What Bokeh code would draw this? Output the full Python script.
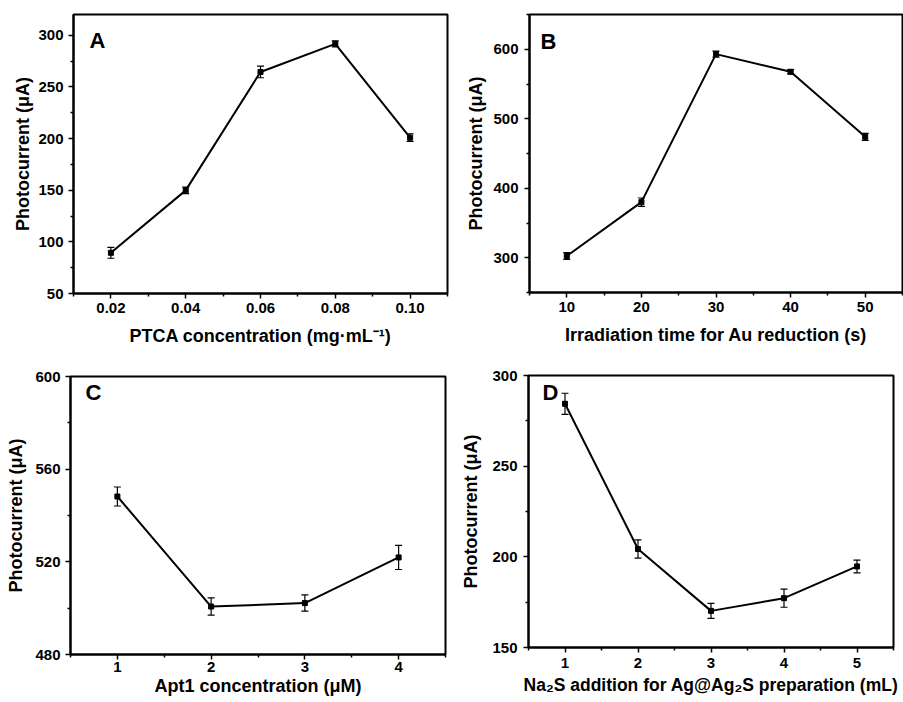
from bokeh.plotting import figure
from bokeh.models import (ColumnDataSource, Whisker, TeeHead, Range1d, FixedTicker,
                          Label, PrintfTickFormatter)
from bokeh.layouts import column, row
from bokeh.embed import file_html
from bokeh.resources import INLINE

FONT = "Liberation Sans"

# ---------------- Panel A ----------------
a_conc = [0.02, 0.04, 0.06, 0.08, 0.10]
a_current = [89.4, 149.8, 264.4, 291.6, 200.8]
a_error = [5.3, 3.2, 5.6, 2.9, 3.6]
a_xticks = [0.02, 0.04, 0.06, 0.08, 0.10]
a_xminor = [0.01, 0.03, 0.05, 0.07, 0.09, 0.11]
a_yticks = [50, 100, 150, 200, 250, 300]
a_yminor = [75, 125, 175, 225, 275]
a_xlabel = "PTCA concentration (mg·mL⁻¹)"

# ---------------- Panel B ----------------
b_time = [10, 20, 30, 40, 50]
b_current = [302.6, 380.0, 593.0, 567.6, 474.0]
b_error = [4.8, 6.0, 4.3, 3.0, 5.0]
b_xticks = [10, 20, 30, 40, 50]
b_xminor = [5, 15, 25, 35, 45, 55]
b_yticks = [300, 400, 500, 600]
b_yminor = [250, 350, 450, 550, 650]
b_xlabel = "Irradiation time for Au reduction (s)"

# ---------------- Panel C ----------------
c_apt = [1, 2, 3, 4]
c_current = [548.2, 500.7, 502.2, 521.9]
c_error = [4.1, 3.7, 3.5, 5.2]
c_xticks = [1, 2, 3, 4]
c_xminor = [0.5, 1.5, 2.5, 3.5, 4.5]
c_yticks = [480, 520, 560, 600]
c_yminor = [500, 540, 580]
c_xlabel = "Apt1 concentration (μM)"

# ---------------- Panel D ----------------
d_na2s = [1, 2, 3, 4, 5]
d_current = [284.4, 204.3, 170.2, 177.2, 194.7]
d_error = [5.8, 5.0, 4.1, 5.0, 3.5]
d_xticks = [1, 2, 3, 4, 5]
d_xminor = [0.5, 1.5, 2.5, 3.5, 4.5, 5.5]
d_yticks = [150, 200, 250, 300]
d_yminor = [175, 225, 275]
d_xlabel = "Na₂S addition for Ag@Ag₂S preparation (mL)"

y_label = "Photocurrent (μA)"


def panel(xs, ys, errs, xr, yr, xt, xm, yt, ym, xlabel, letter,
          width, height, bl, br, bt, bb, lx, ly,
          xtick_standoff=2, xlab_standoff=8, ytick_standoff=5, ylab_standoff=5,
          xfmt=None, xlab_size="18px"):
    p = figure(width=width, height=height,
               x_range=Range1d(*xr), y_range=Range1d(*yr),
               output_backend="svg", toolbar_location=None,
               min_border_left=bl, min_border_right=br,
               min_border_top=bt, min_border_bottom=bb)
    p.frame_align = False
    p.xgrid.visible = False
    p.ygrid.visible = False
    p.outline_line_color = "black"
    p.outline_line_width = 2
    p.outline_line_alpha = 1
    p.background_fill_color = "white"
    p.border_fill_color = "white"

    src = ColumnDataSource(dict(
        x=xs, y=ys,
        upper=[v + e for v, e in zip(ys, errs)],
        lower=[v - e for v, e in zip(ys, errs)],
    ))
    p.line("x", "y", source=src, line_color="black", line_width=2)
    w = Whisker(source=src, base="x", upper="upper", lower="lower",
                line_color="black", line_width=1.2,
                upper_head=TeeHead(size=7, line_color="black", line_width=1.2),
                lower_head=TeeHead(size=7, line_color="black", line_width=1.2))
    p.add_layout(w)
    p.scatter("x", "y", source=src, marker="square", size=5,
              fill_color="black", line_color="black")

    for ax, t, m in ((p.xaxis[0], xt, xm), (p.yaxis[0], yt, ym)):
        ax.ticker = FixedTicker(ticks=t, minor_ticks=m)
        ax.axis_line_width = 2
        ax.axis_line_color = "black"
        ax.major_tick_out = 5
        ax.major_tick_in = 0
        ax.minor_tick_out = 3
        ax.minor_tick_in = 0
        ax.major_tick_line_width = 1.5
        ax.minor_tick_line_width = 1.5
        ax.major_tick_line_color = "black"
        ax.minor_tick_line_color = "black"
        ax.major_label_text_font = FONT
        ax.major_label_text_font_size = "15px"
        ax.major_label_text_font_style = "bold"
        ax.major_label_text_color = "black"
        ax.axis_label_text_font = FONT
        ax.axis_label_text_font_size = "18px"
        ax.axis_label_text_font_style = "bold"
        ax.axis_label_text_color = "black"

    p.xaxis[0].axis_label = xlabel
    p.xaxis[0].axis_label_text_font_size = xlab_size
    p.yaxis[0].axis_label = y_label
    p.xaxis[0].major_label_standoff = xtick_standoff
    p.xaxis[0].axis_label_standoff = xlab_standoff
    p.yaxis[0].major_label_standoff = ytick_standoff
    p.yaxis[0].axis_label_standoff = ylab_standoff
    if xfmt is not None:
        p.xaxis[0].formatter = PrintfTickFormatter(format=xfmt)

    frame_h = height - bt - bb
    p.add_layout(Label(x=lx, y=frame_h - ly, x_units="screen", y_units="screen",
                       text=letter, text_font=FONT, text_font_size="22px",
                       text_font_style="bold", text_color="black",
                       text_baseline="alphabetic"))
    return p


pA = panel(a_conc, a_current, a_error, (0.01, 0.11), (50, 320),
           a_xticks, a_xminor, a_yticks, a_yminor, a_xlabel, "A",
           450, 350, 73, 3, 14, 57, 16, 26,
           xtick_standoff=4, xlab_standoff=10, ylab_standoff=2, xfmt="%.2f")
pB = panel(b_time, b_current, b_error, (5, 55), (250, 650),
           b_xticks, b_xminor, b_yticks, b_yminor, b_xlabel, "B",
           453, 350, 79, 1, 14, 58, 11, 27,
           xtick_standoff=4, xlab_standoff=10, ytick_standoff=6, ylab_standoff=4)
pC = panel(c_apt, c_current, c_error, (0.5, 4.5), (480, 600),
           c_xticks, c_xminor, c_yticks, c_yminor, c_xlabel, "C",
           450, 352, 70, 5, 26, 48, 15, 16,
           xtick_standoff=2, xlab_standoff=1, ylab_standoff=6)
pD = panel(d_na2s, d_current, d_error, (0.5, 5.5), (150, 300),
           d_xticks, d_xminor, d_yticks, d_yminor, d_xlabel, "D",
           453, 352, 78, 10, 25, 55, 14, 17,
           xtick_standoff=5, xlab_standoff=4, ytick_standoff=6, ylab_standoff=8,
           xlab_size="17.5px")

layout = column(row(pA, pB), row(pC, pD))
open("out.html", "w").write(file_html(layout, INLINE, title="Photocurrent optimisation"))
